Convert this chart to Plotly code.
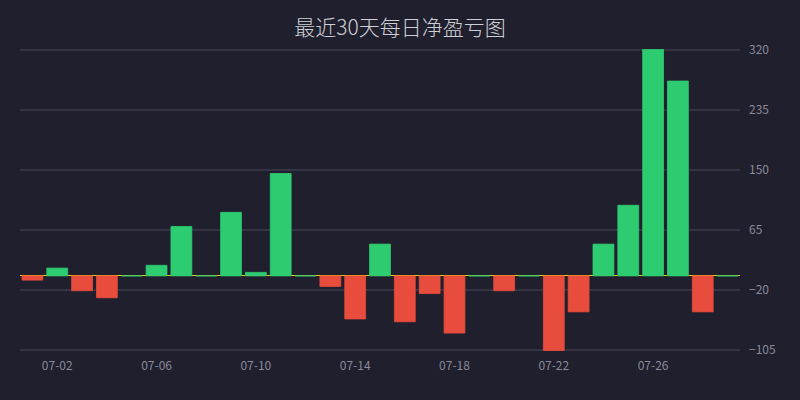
import plotly.graph_objects as go

dates = ["07-%02d" % d for d in range(1, 30)]
values = [-6, 11, -21, -31, 0, 15, 70, 0, 90, 5, 145, 0, -15, -61, 45, -65, -25, -81, 0, -21,
          0, -106, -51, 45, 100, 321, 276, -51, 0]
tick_dates = ["07-02", "07-06", "07-10", "07-14", "07-18", "07-22", "07-26"]
y_ticks = [-105, -20, 65, 150, 235, 320]

GREEN = "#2ecc71"
RED = "#e74c3c"
BG = "#1f1f2e"
GRID = "#4a4a5a"

colors = [RED if v < 0 else GREEN for v in values]

fig = go.Figure()
fig.add_trace(go.Bar(
    x=dates, y=values,
    marker=dict(color=colors, line=dict(color=colors, width=0.8)),
    cliponaxis=False,
    hoverinfo="x+y",
))

for t in y_ticks:
    fig.add_shape(type="line", xref="paper", x0=0, x1=1, yref="y", y0=t, y1=t,
                  line=dict(color=GRID, width=1), layer="below")

fig.update_layout(
    width=800, height=400,
    paper_bgcolor=BG, plot_bgcolor=BG,
    margin=dict(l=20, r=60, t=49, b=49),
    bargap=0.16,
    showlegend=False,
    title=dict(text="最近30天每日净盈亏图", x=0.5, xanchor="center", y=0.93, yanchor="middle",
               font=dict(family="Noto Sans CJK SC", size=21, color="#cfcfd6", weight=300)),
    font=dict(family="Noto Sans CJK SC", size=12, color="#8a8a99"),
    xaxis=dict(
        type="category", range=[-0.5, len(dates) - 0.5],
        tickmode="array", tickvals=tick_dates, ticktext=tick_dates,
        showgrid=False, showline=False, ticks="", ticklabelstandoff=6,
        tickfont=dict(size=12, color="#8a8a99"),
    ),
    yaxis=dict(
        side="right", range=[-106.4, 321.4], tickmode="array", tickvals=y_ticks,
        showgrid=False,
        zeroline=True, zerolinecolor="#f1c40f", zerolinewidth=1,
        showline=False, ticks="", ticklabelstandoff=8,
        tickfont=dict(size=12, color="#8a8a99"),
    ),
)

fig.write_html("out.html", config={"displayModeBar": False},
               post_script="document.body.style.margin='0';")
